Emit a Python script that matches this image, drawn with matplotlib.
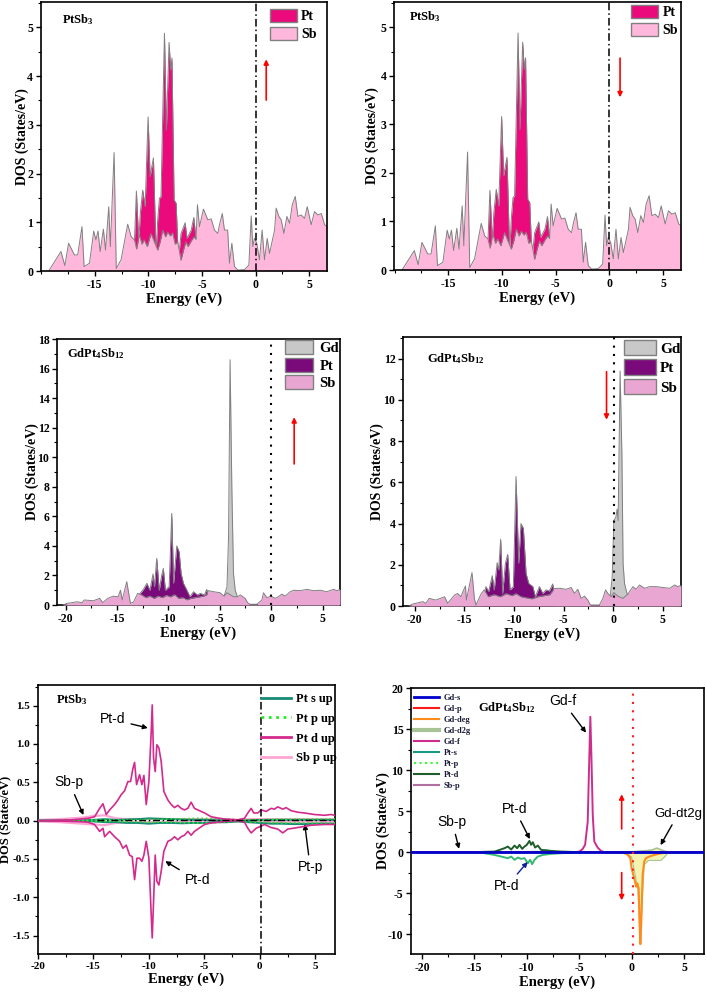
import matplotlib
matplotlib.use('Agg')
import matplotlib.pyplot as plt
from matplotlib.patches import Patch
from matplotlib.lines import Line2D
from matplotlib.ticker import MultipleLocator, FixedLocator
import numpy as np

plt.rcParams['font.family'] = ['Liberation Serif', 'DejaVu Serif']
plt.rcParams['font.weight'] = 'bold'
plt.rcParams['axes.labelweight'] = 'bold'
plt.rcParams['axes.unicode_minus'] = False
plt.rcParams['mathtext.fontset'] = 'custom'
plt.rcParams['mathtext.rm'] = 'Liberation Serif:bold'
plt.rcParams['mathtext.it'] = 'Liberation Serif:bold'
plt.rcParams['mathtext.bf'] = 'Liberation Serif:bold'

# ---------------- data: PtSb3 total/partial DOS (panels a, b) ----------------
ptsb3_sb = [(-19.3, 0.0), (-19.25, 0.02), (-18.16, 0.40), (-17.8, 0.11), (-17.45, 0.57), (-16.9, 0.33),
            (-16.6, 0.33), (-16.2, 0.91), (-16.0, 0.09), (-15.5, 0.16), (-15.1, 0.82), (-14.9, 0.64),
            (-14.7, 0.82), (-14.5, 0.40), (-14.2, 0.86), (-14.0, 0.43), (-13.7, 1.32), (-13.55, 0.50),
            (-13.2, 2.43), (-13.0, 0.05), (-12.55, 0.23), (-11.93, 0.96), (-11.6, 0.70), (-11.3, 0.64),
            (-11.1, 0.45), (-10.85, 0.74), (-10.6, 0.55), (-10.4, 0.64), (-10.1, 0.50), (-9.76, 0.77),
            (-9.45, 0.60), (-9.13, 0.43), (-8.9, 0.60), (-8.66, 0.84), (-8.4, 0.70), (-8.2, 0.80),
            (-7.95, 0.72), (-7.74, 0.78), (-7.5, 0.55), (-7.27, 0.60), (-7.1, 0.40), (-6.96, 0.22),
            (-6.7, 0.45), (-6.5, 0.60), (-6.3, 0.50), (-6.0, 0.62), (-5.75, 0.70), (-5.55, 0.65),
            (-5.42, 1.36), (-5.23, 0.91), (-4.86, 1.27), (-4.45, 1.05), (-4.14, 1.07), (-3.83, 0.84),
            (-3.52, 0.77), (-3.36, 0.95), (-3.1, 1.18), (-2.9, 0.84), (-2.6, 0.84), (-2.43, 0.16),
            (-2.21, 0.57), (-1.96, 0.09), (-1.65, 0.02), (-1.03, 0.03), (-0.62, 0.12), (-0.4, 1.13),
            (-0.25, 0.50), (-0.1, 0.67), (0.12, 0.57), (0.37, 0.23), (0.62, 0.84), (0.84, 0.23),
            (1.09, 0.67), (1.31, 0.36), (1.78, 0.84), (1.93, 1.29), (2.18, 1.12), (2.4, 1.05),
            (2.65, 0.77), (2.93, 1.12), (3.18, 0.98), (3.43, 1.36), (3.71, 1.53), (3.96, 1.12),
            (4.27, 1.15), (4.58, 1.08), (4.83, 1.32), (5.2, 0.95), (5.51, 1.22), (5.83, 1.15),
            (6.14, 1.18), (6.45, 0.95), (6.7, 0.91)]
ptsb3_pt = [(-11.5, 0.30), (-11.3, 0.60), (-11.12, 1.64), (-10.9, 0.60), (-10.75, 1.19), (-10.53, 1.66),
            (-10.3, 1.32), (-10.03, 3.16), (-9.84, 1.94), (-9.53, 2.32), (-9.28, 0.36), (-9.13, 1.05),
            (-8.97, 1.49), (-8.82, 1.53), (-8.5, 4.88), (-8.32, 2.89), (-8.07, 4.69), (-7.92, 4.13),
            (-7.8, 4.37), (-7.6, 1.46), (-7.41, 1.39), (-7.2, 0.23), (-6.95, 0.77), (-6.57, 0.99),
            (-6.4, 0.67), (-6.0, 0.84), (-5.76, 1.10), (-5.55, 0.64), (-5.4, 0.30)]

# ---------------- data: GdPt4Sb12 spin up (panel c) ----------------
gd_up_sb = [(-20.3, 0.0), (-19.86, 0.11), (-18.9, 0.22), (-18.4, 0.16), (-18.2, 0.34), (-17.3, 0.29),
            (-16.7, 0.45), (-16.4, 0.16), (-15.9, 0.45), (-15.4, 0.60), (-14.9, 0.56), (-14.67, 1.0),
            (-14.5, 0.34), (-14.06, 1.58), (-13.7, 0.11), (-13.4, 0.20), (-13.0, 0.79), (-12.6, 0.68),
            (-12.2, 0.50), (-11.8, 0.60), (-11.4, 0.45), (-11.0, 0.60), (-10.6, 0.50), (-10.2, 0.65),
            (-9.8, 0.55), (-9.4, 0.70), (-9.0, 0.45), (-8.6, 0.50), (-8.2, 0.35), (-7.8, 0.45),
            (-7.4, 0.50), (-7.0, 0.55), (-6.6, 0.60), (-6.27, 0.70), (-6.1, 0.97), (-5.6, 0.90),
            (-4.97, 0.83), (-4.58, 0.60), (-4.3, 0.83), (-3.67, 0.56), (-3.28, 0.56), (-3.0, 0.68),
            (-2.53, 0.45), (-2.3, 0.16), (-2.05, 0.05), (-1.4, 0.05), (-0.9, 0.34), (-0.75, 0.83),
            (-0.42, 0.50), (0.0, 0.60), (0.4, 0.45), (0.7, 0.56), (1.04, 0.74), (1.36, 0.60),
            (1.85, 0.90), (2.2, 1.00), (2.8, 0.97), (3.5, 1.06), (4.1, 0.97), (4.8, 1.00),
            (5.4, 0.90), (6.07, 1.06), (6.4, 0.97), (6.7, 1.06)]
gd_up_pt = [(-13.0, 0.50), (-12.76, 0.79), (-12.43, 1.06), (-12.1, 1.47), (-11.8, 1.0), (-11.5, 2.10),
            (-11.36, 1.24), (-11.14, 3.16), (-10.9, 1.0), (-10.65, 2.03), (-10.5, 2.48), (-10.3, 1.0),
            (-9.93, 1.24), (-9.68, 6.20), (-9.5, 1.47), (-9.19, 4.0), (-8.96, 3.6), (-8.77, 2.14),
            (-8.54, 1.47), (-8.2, 1.0), (-7.9, 0.56), (-7.56, 0.90), (-7.17, 0.68), (-6.9, 0.79),
            (-6.5, 0.68), (-6.27, 1.06), (-6.1, 0.50)]
gd_up_gd = [(-5.0, 0.2), (-4.58, 0.6), (-4.3, 1.24), (-4.15, 4.6), (-4.0, 16.6), (-3.83, 8.0),
            (-3.67, 2.14), (-3.5, 1.0), (-3.28, 0.56), (-3.0, 0.2)]

# ---------------- data: GdPt4Sb12 spin down (panel d) ----------------
gd_dn_sb = [(-20.6, 0.0), (-20.2, 0.10), (-19.2, 0.21), (-18.9, 0.13), (-18.55, 0.37), (-17.9, 0.29),
            (-17.0, 0.45), (-16.7, 0.13), (-16.0, 0.53), (-15.7, 0.61), (-15.35, 0.45), (-15.2, 0.65),
            (-14.9, 0.97), (-14.8, 0.29), (-14.24, 1.62), (-14.0, 0.37), (-13.84, 0.05), (-13.3, 0.61),
            (-13.0, 0.78), (-12.6, 0.45), (-12.0, 0.55), (-11.4, 0.45), (-10.8, 0.60), (-10.2, 0.50),
            (-9.8, 0.60), (-9.3, 0.45), (-8.8, 0.40), (-8.2, 0.35), (-7.6, 0.45), (-7.0, 0.50),
            (-6.4, 0.55), (-5.93, 0.85), (-5.4, 0.86), (-4.75, 0.81), (-4.24, 0.90), (-3.9, 0.61),
            (-3.57, 0.81), (-3.23, 0.37), (-2.9, 0.48), (-2.56, 0.29), (-2.3, 0.05), (-1.38, 0.05),
            (-1.04, 0.37), (-0.77, 0.78), (-0.54, 0.61), (-0.2, 0.45), (0.07, 0.65), (0.47, 0.48),
            (0.98, 0.37), (1.48, 0.58), (2.0, 0.94), (2.3, 0.81), (2.66, 1.02), (3.17, 0.86),
            (3.67, 0.94), (4.34, 0.94), (5.0, 0.90), (5.7, 0.86), (6.2, 1.02), (6.5, 0.94), (6.84, 1.0)]
gd_dn_pt = [(-13.1, 0.40), (-12.83, 0.94), (-12.56, 0.70), (-12.2, 1.47), (-12.0, 0.78), (-11.7, 2.10),
            (-11.55, 1.75), (-11.35, 3.24), (-11.15, 0.61), (-10.87, 2.07), (-10.64, 2.50), (-10.4, 0.78),
            (-10.07, 0.94), (-9.8, 6.28), (-9.53, 2.07), (-9.3, 4.0), (-9.06, 3.77), (-8.79, 1.59),
            (-8.52, 1.10), (-8.1, 0.94), (-7.85, 0.45), (-7.44, 0.94), (-7.1, 0.61), (-6.77, 0.78),
            (-6.43, 0.73), (-6.1, 1.07), (-5.93, 0.50)]
gd_dn_gd = [(-0.6, 0.1), (-0.27, 0.6), (-0.1, 1.4), (0.07, 4.15), (0.27, 4.3), (0.4, 4.7), (0.5, 4.15),
            (0.7, 11.4), (0.88, 7.4), (1.0, 2.05), (1.15, 1.08), (1.4, 0.6), (1.75, 0.44), (2.0, 0.2)]

# ---------------- data: PtSb3 partial DOS (panel e) ----------------
ptd_up = [(-20.0, 0.0), (-17.0, 0.01), (-15.5, 0.03), (-14.9, 0.05), (-14.44, 0.16), (-14.14, 0.22),
          (-13.84, 0.08), (-13.54, 0.14), (-13.09, 0.21), (-12.79, 0.27), (-12.49, 0.34), (-12.19, 0.39),
          (-11.89, 0.51), (-11.65, 0.51), (-11.44, 0.68), (-11.29, 0.76), (-11.11, 0.47), (-10.84, 0.60),
          (-10.63, 0.47), (-10.45, 0.59), (-10.24, 0.21), (-10.0, 0.51), (-9.79, 1.16), (-9.7, 1.51),
          (-9.58, 0.82), (-9.43, 0.64), (-9.28, 0.99), (-9.1, 0.95), (-8.89, 0.77), (-8.65, 0.38),
          (-8.29, 0.27), (-7.99, 0.21), (-7.69, 0.17), (-7.39, 0.20), (-7.09, 0.16), (-6.79, 0.14),
          (-6.49, 0.16), (-6.19, 0.24), (-5.89, 0.16), (-5.59, 0.14), (-4.98, 0.10), (-4.38, 0.05),
          (-3.18, 0.02), (-1.98, 0.01), (-1.38, 0.03), (-1.08, 0.10), (-0.78, 0.16), (-0.54, 0.10),
          (-0.18, 0.10), (0.12, 0.14), (0.57, 0.12), (1.02, 0.16), (1.32, 0.15), (1.62, 0.18),
          (2.07, 0.15), (2.37, 0.17), (2.82, 0.13), (3.42, 0.11), (4.02, 0.10), (4.92, 0.08),
          (5.83, 0.07), (6.43, 0.08), (6.73, 0.07)]
ptd_dn = [(-20.0, 0.0), (-17.0, -0.01), (-15.5, -0.02), (-14.9, -0.05), (-14.44, -0.14), (-14.14, -0.10),
          (-13.99, -0.21), (-13.54, -0.14), (-13.09, -0.21), (-12.64, -0.27), (-12.34, -0.36), (-12.04, -0.32),
          (-11.74, -0.45), (-11.5, -0.47), (-11.29, -0.77), (-11.08, -0.49), (-10.84, -0.49), (-10.63, -0.53),
          (-10.45, -0.45), (-10.24, -0.27), (-10.0, -0.49), (-9.79, -1.23), (-9.7, -1.53), (-9.58, -1.06),
          (-9.43, -0.45), (-9.28, -0.79), (-9.1, -0.84), (-8.89, -0.66), (-8.65, -0.40), (-8.29, -0.27),
          (-7.99, -0.25), (-7.69, -0.21), (-7.39, -0.25), (-7.09, -0.21), (-6.79, -0.19), (-6.49, -0.14),
          (-6.19, -0.19), (-5.89, -0.14), (-5.59, -0.11), (-4.98, -0.05), (-4.38, -0.03), (-3.18, -0.01),
          (-1.98, 0.0), (-1.38, -0.02), (-1.08, -0.10), (-0.78, -0.16), (-0.33, -0.10), (-0.03, -0.08),
          (0.42, -0.05), (1.02, -0.09), (1.62, -0.11), (2.07, -0.16), (2.52, -0.11), (3.42, -0.09),
          (4.62, -0.06), (5.83, -0.05), (6.73, -0.05)]
e_small = [-20, -18, -16, -15, -14, -13, -12, -11, -10, -9, -8, -7, -6, -5, -4, -3, -2, -1, 0, 1, 2, 3, 4, 5, 6, 6.8]
pts_up = [0.0, 0.0, 0.005, 0.01, 0.02, 0.01, 0.015, 0.02, 0.03, 0.025, 0.02, 0.015, 0.01, 0.01, 0.005, 0.005,
          0.0, 0.005, 0.01, 0.01, 0.01, 0.01, 0.01, 0.01, 0.01, 0.01]
pts_dn = [0.0, 0.0, -0.005, -0.01, -0.02, -0.02, -0.03, -0.03, -0.04, -0.03, -0.03, -0.035, -0.03, -0.03, -0.02,
          -0.02, -0.01, -0.02, -0.03, -0.04, -0.04, -0.045, -0.045, -0.04, -0.04, -0.04]
ptp_up = [0.0, 0.0, 0.005, 0.01, 0.01, 0.01, 0.01, 0.01, 0.015, 0.015, 0.02, 0.025, 0.03, 0.03, 0.025, 0.02,
          0.01, 0.01, 0.01, 0.015, 0.02, 0.02, 0.02, 0.02, 0.02, 0.02]
ptp_dn = [0.0, 0.0, -0.005, -0.01, -0.01, -0.01, -0.015, -0.015, -0.02, -0.02, -0.02, -0.025, -0.03, -0.03,
          -0.025, -0.02, -0.01, -0.015, -0.02, -0.025, -0.03, -0.03, -0.03, -0.03, -0.03, -0.03]
sbp_up = [0.01, 0.02, 0.04, 0.06, 0.07, 0.03, 0.02, 0.02, 0.02, 0.02, 0.02, 0.02, 0.02, 0.02, 0.02, 0.02,
          0.01, 0.02, 0.02, 0.02, 0.02, 0.02, 0.02, 0.02, 0.02, 0.02]
sbp_dn = [-0.01, -0.02, -0.04, -0.05, -0.06, -0.03, -0.02, -0.02, -0.02, -0.02, -0.02, -0.02, -0.02, -0.02,
          -0.02, -0.02, -0.01, -0.02, -0.02, -0.02, -0.02, -0.02, -0.02, -0.02, -0.02, -0.02]
ptsb3_legend = ['Pt s up', 'Pt p up', 'Pt d up', 'Sb p up']

# ---------------- data: GdPt4Sb12 partial DOS (panel f) ----------------
gdf_up = [(-21.0, 0.0), (-5.5, 0.0), (-4.98, 0.08), (-4.67, 0.4), (-4.44, 0.9), (-4.19, 3.7), (-4.03, 11.9),
          (-3.94, 16.5), (-3.84, 11.9), (-3.71, 4.55), (-3.56, 1.3), (-3.24, 0.57), (-2.92, 0.16),
          (-2.6, 0.0), (6.9, 0.0)]
gddeg_dn = [(-1.5, 0.0), (-0.7, -0.1), (-0.38, -0.3), (-0.13, -0.7), (0.0, -1.95), (0.16, -2.76),
            (0.32, -3.58), (0.44, -4.2), (0.54, -3.8), (0.67, -4.4), (0.76, -8.5), (0.83, -11.2),
            (0.92, -8.5), (1.05, -2.76), (1.2, -1.14), (1.37, -0.73), (1.68, -0.53), (2.16, -0.33),
            (2.8, -0.12), (3.43, -0.04), (4.5, 0.0)]
gdd2g_up = [(-0.5, 0.0), (0.0, 0.05), (1.0, 0.15), (1.5, 0.2), (2.0, 0.3), (2.4, 0.5), (2.8, 0.3),
            (3.2, 0.1), (4.0, 0.0)]
gdd2g_dn = [(-0.6, 0.0), (0.0, -0.6), (0.3, -2.5), (0.6, -4.6), (0.75, -9.0), (0.85, -10.5), (1.0, -6.0),
            (1.2, -1.5), (1.6, -1.0), (2.2, -1.0), (2.8, -1.0), (3.2, -0.5), (3.5, 0.0)]
ptd6_up = [(-14.5, 0.0), (-14.03, 0.05), (-13.08, 0.08), (-12.6, 0.28), (-12.13, 0.49), (-11.81, 0.69),
           (-11.49, 0.33), (-11.17, 0.81), (-10.92, 0.49), (-10.7, 0.90), (-10.44, 0.41), (-10.22, 0.69),
           (-10.0, 0.90), (-9.75, 1.38), (-9.59, 0.90), (-9.43, 1.22), (-9.21, 0.57), (-8.95, 0.81),
           (-8.63, 0.28), (-8.16, 0.24), (-7.68, 0.16), (-6.73, 0.08), (-5.78, 0.04), (-5.0, 0.0)]
ptd6_dn = [(-14.5, 0.0), (-14.03, -0.12), (-13.08, -0.33), (-12.44, -0.53), (-11.81, -0.73), (-11.49, -0.53),
           (-11.17, -0.93), (-10.86, -0.65), (-10.54, -0.81), (-10.22, -0.73), (-9.9, -1.34), (-9.68, -0.93),
           (-9.49, -1.46), (-9.27, -0.93), (-8.95, -0.53), (-8.48, -0.33), (-7.68, -0.20), (-6.73, -0.12),
           (-5.78, -0.06), (-5.0, 0.0)]
e_grid6 = [-21, -18, -15, -12, -9, -6, -3, 0, 3, 6.9]
gds_line = [0, 0, 0, 0, 0, 0, 0, 0, 0, 0]
gdp_line = [0.02, 0.02, 0.02, 0.03, 0.02, 0.02, 0.02, 0.05, 0.03, 0.02]
pts6_line = [0.0, 0.0, 0.02, 0.05, 0.08, 0.03, 0.02, 0.05, 0.04, 0.02]
ptp6_line = [0.0, 0.0, -0.03, -0.08, -0.1, -0.05, -0.02, -0.05, -0.04, -0.02]
sbp6_line = [0.0, 0.02, 0.05, 0.06, 0.06, 0.05, 0.03, 0.06, 0.06, 0.05]
gd_legend = ['Gd-s', 'Gd-p', 'Gd-deg', 'Gd-d2g', 'Gd-f', 'Pt-s', 'Pt-p', 'Pt-d', 'Sb-p']


def unz(pairs):
    return np.array([p[0] for p in pairs]), np.array([p[1] for p in pairs])


def style(ax, xlim, ylim, xmaj, ymaj, ymin, ylx, tfs=8.5, yfs=10):
    ax.set_xlim(*xlim)
    ax.set_ylim(*ylim)
    ax.xaxis.set_major_locator(FixedLocator(xmaj))
    ax.xaxis.set_minor_locator(MultipleLocator(2.5))
    ax.yaxis.set_major_locator(MultipleLocator(ymaj))
    ax.yaxis.set_minor_locator(MultipleLocator(ymin))
    ax.tick_params(which='major', direction='out', length=3.5, width=1.0, labelsize=tfs, pad=2)
    ax.tick_params(which='minor', direction='out', length=2, width=0.8)
    for s in ax.spines.values():
        s.set_linewidth(1.2)
    for t in ax.get_xticklabels() + ax.get_yticklabels():
        t.set_fontweight('bold')
    ax.set_xlabel('Energy (eV)', fontsize=10.5, labelpad=1)
    ax.set_ylabel('DOS (States/eV)', fontsize=yfs)
    ax.yaxis.set_label_coords(ylx, 0.5)


def filled(ax, pairs, color, z):
    e, d = unz(pairs)
    ax.fill_between(e, 0, d, color=color, lw=0, zorder=z)
    ax.plot(e, d, color='#808080', lw=0.7, zorder=z + 0.1)


EDGE = '#808080'
fig = plt.figure(figsize=(7.07, 9.92), dpi=100)

# ---- panels a & b (PtSb3 up/down) ----
PT_A, SB_A = '#EA0A7C', '#FFB8DB'
cfg_ab = [([0.0576, 0.7268, 0.405, 0.2712], (3.45, 4.4), (0.80, 0.975), (0.074, 0.935), -0.041),
          ([0.5573, 0.7278, 0.406, 0.2702], (4.42, 3.5), (0.826, 0.99), (0.052, 0.944), -0.052)]
for rect, arrow, anchor, tpos, ylx in cfg_ab:
    ax = fig.add_axes(rect)
    filled(ax, ptsb3_pt, PT_A, 1)
    filled(ax, ptsb3_sb, SB_A, 2)
    ax.axvline(0, color='k', lw=1.1, ls=(0, (5, 2, 1, 2)), zorder=3)
    ax.annotate('', xy=(1.0, arrow[1]), xytext=(1.0, arrow[0]),
                arrowprops=dict(arrowstyle='-|>', color='red', lw=1.2, mutation_scale=7))
    ax.text(tpos[0], tpos[1], 'PtSb$_3$', transform=ax.transAxes, fontsize=9, va='center')
    style(ax, (-20.05, 6.68), (0, 5.52), [-15, -10, -5, 0, 5], 1, 0.5, ylx)
    hs = [Patch(facecolor=PT_A, edgecolor=EDGE), Patch(facecolor=SB_A, edgecolor=EDGE)]
    ax.legend(hs, ['Pt', 'Sb'], loc='upper left', bbox_to_anchor=anchor, frameon=False, fontsize=10,
              handlelength=1.95, handleheight=1.08, labelspacing=0.29, handletextpad=0.3,
              borderpad=0, borderaxespad=0)

# ---- panels c & d (GdPt4Sb12 up/down) ----
GD_C, PT_C, SB_C = '#C8C8C8', '#7A0A7A', '#EAA6D3'
axc = fig.add_axes([0.0806, 0.3901, 0.4003, 0.2681])
filled(axc, gd_up_gd, GD_C, 1)
filled(axc, gd_up_pt, PT_C, 2)
filled(axc, gd_up_sb, SB_C, 3)
axc.axvline(0, color='k', lw=1.5, ls=(0, (1, 3)), zorder=4)
axc.annotate('', xy=(2.24, 12.9), xytext=(2.24, 9.36),
             arrowprops=dict(arrowstyle='-|>', color='red', lw=1.2, mutation_scale=7))
axc.text(0.035, 0.944, 'GdPt$_4$Sb$_{12}$', transform=axc.transAxes, fontsize=9, va='center')
style(axc, (-20.85, 6.7), (0, 18), [-20, -15, -10, -5, 0, 5], 2, 1, -0.064)
hs = [Patch(facecolor=GD_C, edgecolor=EDGE), Patch(facecolor=PT_C, edgecolor=EDGE),
      Patch(facecolor=SB_C, edgecolor=EDGE)]
axc.legend(hs, ['Gd', 'Pt', 'Sb'], loc='upper left', bbox_to_anchor=(0.806, 0.996), frameon=False,
           fontsize=10.5, handlelength=1.9, handleheight=1.1, labelspacing=0.17, handletextpad=0.45,
           borderpad=0, borderaxespad=0)

axd = fig.add_axes([0.570, 0.3891, 0.3932, 0.2712])
filled(axd, gd_dn_gd, GD_C, 1)
filled(axd, gd_dn_pt, PT_C, 2)
filled(axd, gd_dn_sb, SB_C, 3)
axd.axvline(0.07, color='k', lw=1.5, ls=(0, (1, 3)), zorder=4)
axd.annotate('', xy=(-0.67, 8.9), xytext=(-0.67, 11.5),
             arrowprops=dict(arrowstyle='-|>', color='red', lw=1.2, mutation_scale=7))
axd.text(0.086, 0.918, 'GdPt$_4$Sb$_{12}$', transform=axd.transAxes, fontsize=9, va='center')
style(axd, (-21.2, 6.84), (0, 13.05), [-20, -15, -10, -5, 0, 5], 2, 1, -0.068)
axd.legend(hs, ['Gd', 'Pt', 'Sb'], loc='upper left', bbox_to_anchor=(0.795, 0.989), frameon=False,
           fontsize=11, handlelength=2.1, handleheight=1.18, labelspacing=0.23, handletextpad=0.27,
           borderpad=0, borderaxespad=0)

# ---- panel e (PtSb3 partial DOS) ----
axe = fig.add_axes([0.0537, 0.0383, 0.420, 0.2712])
C_S, C_P, C_D, C_SB = '#178A78', '#22EE22', '#D42A8C', '#FFA6D4'
es = np.array(e_small)
axe.plot(es, sbp_up, color=C_SB, lw=1.6, zorder=2)
axe.plot(es, sbp_dn, color=C_SB, lw=1.6, zorder=2)
axe.plot(es, pts_up, color=C_S, lw=1.4, zorder=3)
axe.plot(es, pts_dn, color=C_S, lw=1.4, zorder=3)
axe.plot(es, ptp_up, color=C_P, lw=1.2, ls=':', zorder=3)
axe.plot(es, ptp_dn, color=C_P, lw=1.2, ls=':', zorder=3)
e, d = unz(ptd_up)
axe.plot(e, d, color=C_D, lw=1.2, zorder=4)
e, d = unz(ptd_dn)
axe.plot(e, d, color=C_D, lw=1.2, zorder=4)
axe.axhline(0.01, xmin=0.2, color='k', lw=1.0, ls=(0, (5, 2, 1, 2)), zorder=5)
axe.axvline(0.1, color='k', lw=1.1, ls=(0, (5, 2, 1, 2)), zorder=5)
axe.text(0.06, 0.944, 'PtSb$_3$', transform=axe.transAxes, fontsize=9, va='center')
style(axe, (-20, 6.77), (-1.74, 1.77), [-20, -15, -10, -5, 0, 5], 0.5, 0.25, -0.085, tfs=8, yfs=9)
axe.yaxis.set_major_formatter(matplotlib.ticker.FormatStrFormatter('%.1f'))
hl = [Line2D([], [], color=C_S, lw=2), Line2D([], [], color=C_P, lw=2, ls=':'),
      Line2D([], [], color=C_D, lw=2), Line2D([], [], color=C_SB, lw=2)]
axe.legend(hl, ptsb3_legend, loc='upper left', bbox_to_anchor=(0.75, 0.97), frameon=False, fontsize=9,
           handlelength=2.4, labelspacing=0.62, handletextpad=0.4, borderpad=0, borderaxespad=0)
ann = dict(family=['Liberation Sans', 'DejaVu Sans'], fontweight='normal', fontsize=10)
arw = dict(arrowstyle='-|>', color='k', lw=1.0, mutation_scale=7)
axe.annotate('Pt-d', xy=(-9.85, 1.2), xytext=(-14.4, 1.32), arrowprops=arw, va='center', **ann)
axe.annotate('Sb-p', xy=(-15.8, 0.04), xytext=(-18.5, 0.5), arrowprops=arw, va='center', **ann)
axe.annotate('Pt-d', xy=(-8.74, -0.51), xytext=(-6.8, -0.78), arrowprops=arw, va='center', **ann)
axe.annotate('Pt-p', xy=(4.02, -0.01), xytext=(3.4, -0.61), arrowprops=arw, va='center', **ann)

# ---- panel f (GdPt4Sb12 partial DOS) ----
axf = fig.add_axes([0.5813, 0.0383, 0.4144, 0.2681])
G_S, G_P, G_DEG, G_D2G, G_F = '#0000CC', '#FF1A1A', '#FF8C1A', '#A8C496', '#CC2E8E'
P_S, P_P, P_D, P_D2, S_P = '#1A9A82', '#33FF33', '#1E5E2A', '#35B872', '#B070A0'
eg = np.array(e_grid6)
e, d = unz(gdd2g_dn)
axf.fill_between(e, 0, d, color='#F4F4B0', lw=0, zorder=1)
axf.plot(e, d, color=G_D2G, lw=0.8, zorder=1.5)
e, d = unz(gdd2g_up)
axf.fill_between(e, 0, d, color='#F4F4B0', lw=0, zorder=1)
axf.plot(e, d, color=G_D2G, lw=1.2, zorder=1.5)
e, d = unz(gddeg_dn)
axf.plot(e, d, color=G_DEG, lw=1.5, zorder=3)
e, d = unz(gdf_up)
axf.plot(e, d, color=G_F, lw=1.4, zorder=3)
e, d = unz(ptd6_up)
axf.plot(e, d, color=P_D, lw=1.4, zorder=3)
e, d = unz(ptd6_dn)
axf.plot(e, d, color=P_D2, lw=1.4, zorder=3)
axf.plot(eg, sbp6_line, color=S_P, lw=1.0, zorder=2)
axf.plot(eg, pts6_line, color=P_S, lw=1.0, zorder=2)
axf.plot(eg, ptp6_line, color=P_P, lw=1.0, ls=':', zorder=2)
axf.plot(eg, gdp_line, color=G_P, lw=1.0, zorder=2)
axf.plot(eg, gds_line, color=G_S, lw=2.0, zorder=4)
axf.axvline(0.15, color='#FF2020', lw=1.5, ls=(0, (1, 3)), zorder=5)
axf.annotate('', xy=(-0.95, 7.4), xytext=(-0.95, 2.5),
             arrowprops=dict(arrowstyle='-|>', color='red', lw=1.2, mutation_scale=7))
axf.annotate('', xy=(-0.95, -6.2), xytext=(-0.95, -2.15),
             arrowprops=dict(arrowstyle='-|>', color='red', lw=1.2, mutation_scale=7))
axf.text(0.229, 0.925, 'GdPt$_4$Sb$_{12}$', transform=axf.transAxes, fontsize=9, va='center')
style(axf, (-21.05, 6.9), (-12.4, 20), [-20, -15, -10, -5, 0, 5], 5, 2.5, -0.072)
hl = [Line2D([], [], color=G_S, lw=2), Line2D([], [], color=G_P, lw=1.5),
      Line2D([], [], color=G_DEG, lw=1.5), Line2D([], [], color=G_D2G, lw=3),
      Line2D([], [], color=G_F, lw=1.5), Line2D([], [], color=P_S, lw=1.5),
      Line2D([], [], color=P_P, lw=1.5, ls=':'), Line2D([], [], color=P_D, lw=1.5),
      Line2D([], [], color=S_P, lw=1.5)]
leg = axf.legend(hl, gd_legend, loc='upper left', bbox_to_anchor=(0.01, 0.977), frameon=False, fontsize=6,
                 handlelength=3.0, labelspacing=0.35, handletextpad=0.6, borderpad=0, borderaxespad=0)
for t in leg.get_texts():
    t.set_color('#1a1a3a')
ann6 = dict(family=['Liberation Sans', 'DejaVu Sans'], fontweight='normal', fontsize=10)
axf.annotate('Gd-f', xy=(-4.19, 14.3), xytext=(-7.9, 18.4), arrowprops=arw, va='center', **ann6)
axf.annotate('Pt-d', xy=(-9.59, 1.3), xytext=(-12.4, 5.3), arrowprops=arw, va='center', **ann6)
axf.annotate('Pt-d', xy=(-9.75, -0.93), xytext=(-13.1, -4.1),
             arrowprops=dict(arrowstyle='-|>', color='#1020A0', lw=1.0, mutation_scale=7), va='center', **ann6)
axf.annotate('Sb-p', xy=(-16.4, 0.08), xytext=(-18.5, 3.7), arrowprops=arw, va='center', **ann6)
axf.annotate('Gd-dt2g', xy=(2.63, 0.57), xytext=(6.75, 4.7), arrowprops=arw, va='center', ha='right',
             family=['Liberation Sans', 'DejaVu Sans'], fontweight='normal', fontsize=9.5)

fig.savefig('out.png', dpi=100)
